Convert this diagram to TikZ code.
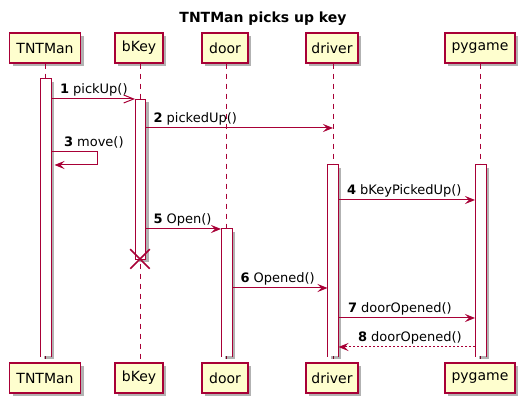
\documentclass[tikz,border=0pt]{standalone}
\usepackage{fontspec}
\setmainfont{DejaVu Sans}
\usetikzlibrary{arrows.meta,shadows,shapes.misc}
\definecolor{pred}{HTML}{A80036}
\definecolor{pfill}{HTML}{FEFECE}
\begin{document}
\begin{tikzpicture}[x=1pt,y=-1pt,
  shad/.style={drop shadow={shadow xshift=3pt,shadow yshift=-3pt,fill=black,opacity=0.3}},
  part/.style={draw=pred,fill=pfill,line width=1.1pt,minimum height=30pt,inner sep=0pt,
    font=\fontsize{14}{16}\selectfont,shad},
  bar/.style={draw=pred,fill=white,line width=1pt,minimum width=10pt,inner sep=0pt,anchor=north,shad},
  openbar/.style={bar,draw=none},
  barline/.style={draw=pred,line width=1pt},
  life/.style={draw=pred,line width=1pt,dash pattern=on 5pt off 5pt},
  msg/.style={draw=pred,line width=1pt},
  fa/.style={-{Stealth[length=10pt,width=8pt,inset=4pt,fill=pred]}},
  oa/.style={-{Straight Barb[length=10pt,width=8pt]}},
  lbl/.style={inner sep=0pt,anchor=base west,font=\fontsize{13}{15}\selectfont,text=black}
]
\useasboundingbox (0,0) rectangle (523,403);
\node[font=\bfseries\fontsize{14}{16}\selectfont,anchor=base] (title) at (263,23) {TNTMan picks up key};

% participants top
\node[part,minimum width=71pt] (tT) at (45,48) {TNTMan};
\node[part,minimum width=48pt] (kT) at (139,48) {bKey};
\node[part,minimum width=46pt] (dT) at (225,48) {door};
\node[part,minimum width=52pt] (vT) at (332,48) {driver};
\node[part,minimum width=70pt] (pT) at (480,48) {pygame};
% participants bottom
\node[part,minimum width=71pt] (tB) at (45,378) {TNTMan};
\node[part,minimum width=48pt] (kB) at (139,378) {bKey};
\node[part,minimum width=46pt] (dB) at (225,378) {door};
\node[part,minimum width=52pt] (vB) at (332,378) {driver};
\node[part,minimum width=70pt] (pB) at (480,378) {pygame};

% lifelines
\draw[life] (tT.south) -- (tB.north);
\draw[life] ([xshift=1pt]kT.south) -- ([xshift=1pt]kB.north);
\draw[life] ([xshift=1pt]dT.south) -- ([xshift=1pt]dB.north);
\draw[life] ([xshift=1pt]vT.south) -- ([xshift=1pt]vB.north);
\draw[life] (pT.south) -- (pB.north);

% activation bars
\node[openbar,minimum height=277pt] (aT) at (46,79) {};
\node[bar,minimum height=160pt] (aK) at (140.5,99) {};
\node[openbar,minimum height=127pt] (aD) at (226.5,229) {};
\node[openbar,minimum height=191pt] (aV) at (333,165) {};
\node[openbar,minimum height=191pt] (aP) at (480.5,165) {};
\draw[barline] (aT.south west) |- (aT.north east) -- (aT.south east);
\draw[barline] (aD.south west) |- (aD.north east) -- (aD.south east);
\draw[barline] (aV.south west) |- (aV.north east) -- (aV.south east);
\draw[barline] (aP.south west) |- (aP.north east) -- (aP.south east);

% destroy
\node[draw=pred,line width=1.5pt,cross out,minimum size=18pt,inner sep=0pt] (x) at (140,259) {};

% y levels
\coordinate (y1) at (0,99);
\coordinate (y2) at (0,128);
\coordinate (y3a) at (0,152);
\coordinate (y3b) at (0,165);
\coordinate (y4) at (0,200);
\coordinate (y5) at (0,229);
\coordinate (y6) at (0,288);
\coordinate (y7) at (0,318);
\coordinate (y8) at (0,347);

% messages
\draw[msg,oa] (aT.east |- y1) -- node[lbl,pos=0,xshift=8pt,yshift=5pt] {\textbf{1} pickUp()} (aK.west |- y1);
\draw[msg,fa] (aK.east |- y2) -- node[lbl,pos=0,xshift=7pt,yshift=5pt] {\textbf{2} pickedUp()} ([xshift=1pt]vT.south |- y2);
\draw[msg,fa,shorten >=3pt] (aT.east |- y3a) -- node[lbl,pos=0,xshift=12pt,yshift=5pt] {\textbf{3} move()} ++(46,0) |- (aT.east |- y3b);
\draw[msg,fa] (aV.east |- y4) -- node[lbl,pos=0,xshift=8pt,yshift=5pt] {\textbf{4} bKeyPickedUp()} (aP.west |- y4);
\draw[msg,fa] (aK.east |- y5) -- node[lbl,pos=0,xshift=7pt,yshift=5pt] {\textbf{5} Open()} (aD.west |- y5);
\draw[msg,fa] (aD.east |- y6) -- node[lbl,pos=0,xshift=8pt,yshift=5pt] {\textbf{6} Opened()} (aV.west |- y6);
\draw[msg,fa] (aV.east |- y7) -- node[lbl,pos=0,xshift=9pt,yshift=5pt] {\textbf{7} doorOpened()} (aP.west |- y7);
\draw[msg,fa,dash pattern=on 2pt off 2pt] (aP.west |- y8) -- node[lbl,pos=1,xshift=19pt,yshift=5pt] {\textbf{8} doorOpened()} (aV.east |- y8);
\end{tikzpicture}
\end{document}
